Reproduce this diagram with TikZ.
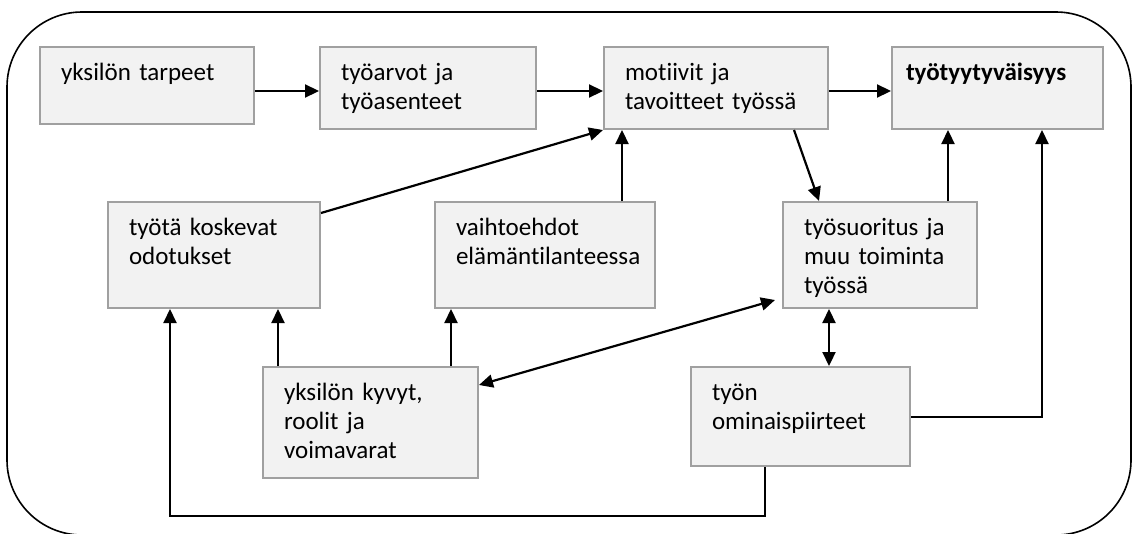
\documentclass[tikz,border=0pt]{standalone}
\usepackage{fontspec}
\setmainfont{Carlito}[Ligatures=NoCommon]
\usetikzlibrary{arrows.meta}
\definecolor{reuna}{HTML}{A0A0A0}
\definecolor{tausta}{HTML}{F2F2F2}
\tikzset{
    laatikko/.style={draw=reuna, fill=tausta, line width=2, anchor=north west,
        inner xsep=21, inner ysep=0, text height=33, align=left,
        font=\fontsize{25}{29}\selectfont},
    nuoli/.style={line width=2.2, -{Triangle[length=14pt,width=13pt]}},
    kaksinuoli/.style={line width=2.2, {Triangle[length=14pt,width=13pt]}-{Triangle[length=14pt,width=13pt]}},
}
\begin{document}
\begin{tikzpicture}[x=1pt, y=-1pt]
                \useasboundingbox (0,0) rectangle (1132,533);
                \clip (0,0) rectangle (1132,533);
                
                % Drawing outer frame
                \draw [line width=1.6, rounded corners=75] (7,12) rectangle (1131,535);%
                
                % Boxes of the top row
                \node [laatikko, text width=172, text depth=44] (tarpeet) at (39,46) {yksilön tarpeet};%
                \node [laatikko, text width=174, text depth=49] (arvot) at (319,46) {työarvot ja\\työasenteet};%
                \node [laatikko, text width=182, text depth=49] (motiivit) at (603,46) {motiivit ja\\tavoitteet työssä};%
                \node [laatikko, inner xsep=14, text width=183, text depth=49] (tyyt) at (891,46) {\textbf{työtyytyväisyys}};%
                
                % Boxes of the middle row
                \node [laatikko, text width=170, text depth=73] (odotukset) at (107,201) {työtä koskevat\\odotukset};%
                \node [laatikko, text width=178, text depth=73] (vaihtoehdot) at (434,201) {vaihtoehdot\\elämäntilanteessa};%
                \node [laatikko, text width=152, text depth=73] (suoritus) at (782,201) {työsuoritus ja\\muu toiminta\\työssä};%
                
                % Boxes of the bottom row
                \node [laatikko, text width=173, text depth=78] (kyvyt) at (262,366) {yksilön kyvyt,\\roolit ja\\voimavarat};%
                \node [laatikko, text width=177, text depth=66] (ominais) at (690,366) {työn\\ominaispiirteet};%
                
                % Arrows along the top row
                \coordinate (taso) at (0,91);
                \draw [nuoli] (tarpeet.east |- taso) -- (arvot.west |- taso);%
                \draw [nuoli] (arvot.east |- taso) -- (motiivit.west |- taso);%
                \draw [nuoli] (motiivit.east |- taso) -- (tyyt.west |- taso);%
                
                % Arrows into motiivit
                \draw [nuoli] ([yshift=-12pt]odotukset.north east) -- (motiivit.south west);%
                \coordinate (mv) at ([xshift=19pt]motiivit.south west);
                \draw [nuoli] (vaihtoehdot.north -| mv) -- (mv);%
                
                % Arrow motiivit to suoritus
                \draw [nuoli] ([xshift=-35pt]motiivit.south east) -- ([xshift=37pt]suoritus.north west);%
                
                % Arrows into tyyt
                \coordinate (st) at ([xshift=-30pt]suoritus.north east);
                \draw [nuoli] (st) -- (st |- tyyt.south);%
                \draw [nuoli, line width=2] (ominais.east) -| ([xshift=-62pt]tyyt.south east);%
                
                % Arrows from kyvyt
                \coordinate (ko) at ([xshift=16pt]kyvyt.north west);
                \draw [nuoli] (ko) -- (ko |- odotukset.south);%
                \coordinate (kv) at ([xshift=-28pt]kyvyt.north east);
                \draw [nuoli] (kv) -- (kv |- vaihtoehdot.south);%
                \draw [kaksinuoli] ([yshift=-19pt]kyvyt.north east) -- ([xshift=-7pt,yshift=9pt]suoritus.south west);%
                
                % Arrow between suoritus and ominais
                \draw [kaksinuoli] (suoritus.south -| motiivit.east) -- (ominais.north -| motiivit.east);%
                
                % Line from ominais round to odotukset
                \coordinate (oo) at ([xshift=63pt]odotukset.south west);
                \draw [nuoli, line width=2] ([xshift=75pt]ominais.south west) -- ++(0,49) -| (oo);%
\end{tikzpicture}
\end{document}
